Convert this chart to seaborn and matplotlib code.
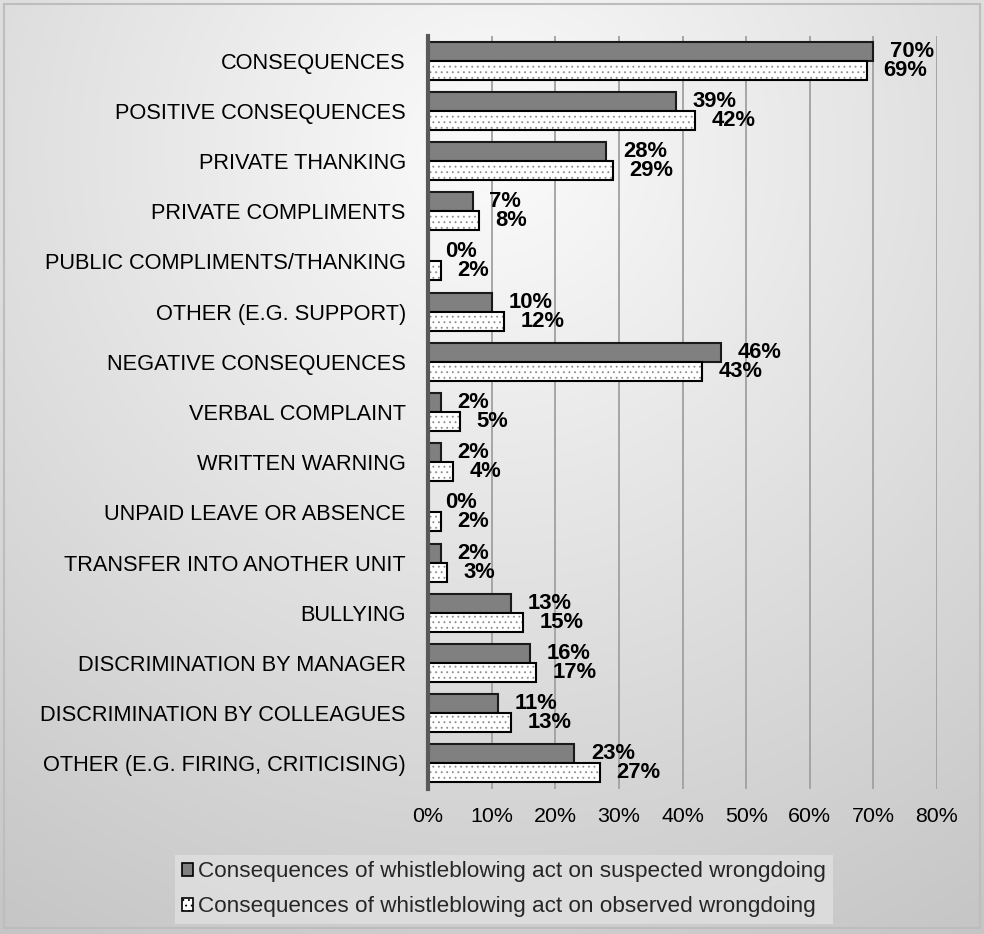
import numpy as np
import pandas as pd
import matplotlib
matplotlib.use("Agg")
import matplotlib.pyplot as plt
from matplotlib.patches import Rectangle, Patch
import seaborn as sns

categories = [
    "CONSEQUENCES",
    "POSITIVE CONSEQUENCES",
    "PRIVATE THANKING",
    "PRIVATE COMPLIMENTS",
    "PUBLIC COMPLIMENTS/THANKING",
    "OTHER (E.G. SUPPORT)",
    "NEGATIVE CONSEQUENCES",
    "VERBAL COMPLAINT",
    "WRITTEN WARNING",
    "UNPAID LEAVE OR ABSENCE",
    "TRANSFER INTO ANOTHER UNIT",
    "BULLYING",
    "DISCRIMINATION BY MANAGER",
    "DISCRIMINATION BY COLLEAGUES",
    "OTHER (E.G. FIRING, CRITICISING)",
]
suspected = [70, 39, 28, 7, 0, 10, 46, 2, 2, 0, 2, 13, 16, 11, 23]
observed = [69, 42, 29, 8, 2, 12, 43, 5, 4, 2, 3, 15, 17, 13, 27]
series_names = [
    "Consequences of whistleblowing act on suspected wrongdoing",
    "Consequences of whistleblowing act on observed wrongdoing",
]
x_ticks = [0, 10, 20, 30, 40, 50, 60, 70, 80]

df = pd.DataFrame({
    "category": categories * 2,
    "value": suspected + observed,
    "series": [series_names[0]] * len(categories) + [series_names[1]] * len(categories),
})

sns.set_theme(style="white")
plt.rcParams["font.family"] = ["Liberation Sans", "DejaVu Sans"]
plt.rcParams["hatch.linewidth"] = 0.6

W, H = 984, 934
fig = plt.figure(figsize=(W / 100, H / 100), dpi=100)

# background radial gradient
bg = fig.add_axes([0, 0, 1, 1], zorder=-10)
yy, xx = np.mgrid[0:H, 0:W]
d = np.sqrt((xx - 492) ** 2 + (yy - 150) ** 2)
v = np.clip(0.985 - 0.00023 * d, 0, 1)
bg.imshow(np.dstack([v, v, v]), extent=[0, 1, 0, 1], aspect="auto", origin="upper")
bg.add_patch(Rectangle((4 / W, 6 / H), (W - 8) / W, (H - 10) / H, fill=False,
                       edgecolor="#bdbdbd", linewidth=1.5, transform=bg.transAxes))
bg.set_axis_off()

ax_top, ax_bot = 35.5, 788.5
ax = fig.add_axes([428 / W, 1 - ax_bot / H, (937 - 428) / W, (ax_bot - ax_top) / H])
ax.set_facecolor("none")

sns.barplot(data=df, x="value", y="category", hue="series", hue_order=series_names,
            orient="h", width=0.753, palette=["#808080", "white"], saturation=1,
            edgecolor="black", linewidth=1.5, legend=False, ax=ax, zorder=3)

# observed bars: grey dotted hatch, then a black outline on top
for bar in ax.containers[1]:
    bar.set_edgecolor("#8a8a8a")
    bar.set_linewidth(0)
    bar.set_hatch("...")
    ax.add_patch(Rectangle((bar.get_x(), bar.get_y()), bar.get_width(), bar.get_height(),
                           fill=False, edgecolor="black", linewidth=1.5, zorder=4))
for bar in ax.containers[0]:
    bar.set_edgecolor("#1a1a1a")

for cont in ax.containers:
    for bar in cont:
        ax.annotate(f"{bar.get_width():.0f}%",
                    (bar.get_width(), bar.get_y() + bar.get_height() / 2),
                    xytext=(12, 0), textcoords="offset points", ha="left", va="center",
                    fontsize=15.8, fontweight="bold", color="black", zorder=5)

ax.set_xlim(0, 80)
ax.set_xticks(x_ticks)
ax.set_xticklabels([f"{t}%" for t in x_ticks])
ax.set_xlabel("")
ax.set_ylabel("")
ax.tick_params(axis="x", length=0, pad=13, labelsize=15.4, colors="black")
ax.tick_params(axis="y", length=0, pad=16, labelsize=15.7, colors="black")
ax.grid(axis="x", color="#a0a0a0", linewidth=1.3, zorder=0)
ax.grid(axis="y", visible=False)
ax.set_axisbelow(True)
for s in ["top", "right", "bottom"]:
    ax.spines[s].set_visible(False)
ax.spines["left"].set_color("#595959")
ax.spines["left"].set_linewidth(3)
ax.spines["left"].set_zorder(6)

handles = [
    Patch(facecolor="#808080", edgecolor="black", linewidth=1.2),
    Patch(facecolor="white", edgecolor="black", linewidth=1.2, hatch="..."),
]
leg = fig.legend(handles, series_names, loc="lower left",
                 bbox_to_anchor=(175 / W, 1 - 924 / H), ncol=1,
                 fontsize=16.2, frameon=True, handlelength=0.52, handleheight=0.52,
                 handletextpad=0.22, labelspacing=0.62, borderpad=0.3,
                 borderaxespad=0)
leg.get_frame().set_facecolor("#e0e0e0")
leg.get_frame().set_edgecolor("none")
leg.get_frame().set_alpha(0.8)
leg.get_frame().set_boxstyle("square", pad=0)

fig.savefig("out.png", dpi=100)
